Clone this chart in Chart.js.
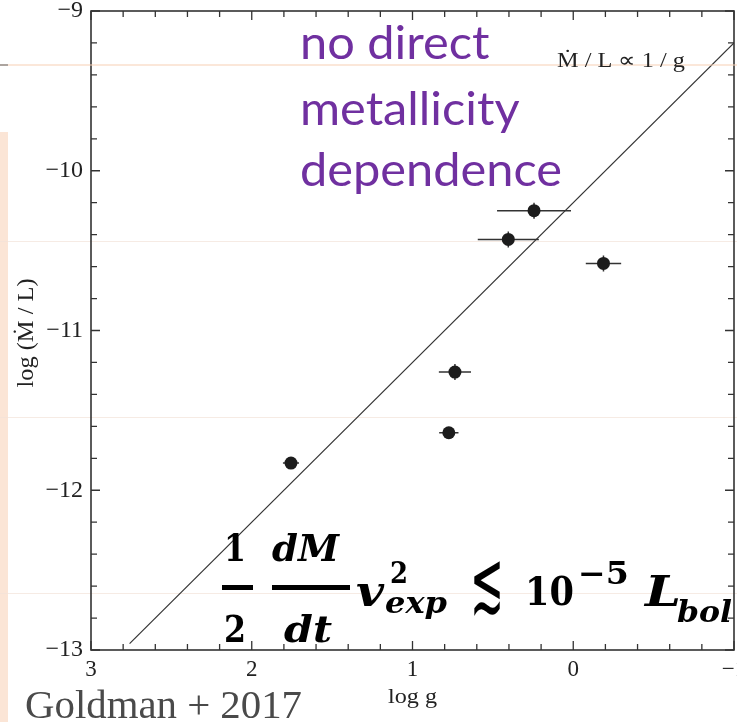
<!DOCTYPE html>
<html>
<head>
<meta charset="utf-8">
<script src="https://cdn.jsdelivr.net/npm/chart.js@4.4.1/dist/chart.umd.min.js"></script>
<style>
  html, body { margin: 0; padding: 0; background: #fff; overflow: hidden; }
  #wrap { width: 737px; height: 722px; overflow: hidden; position: relative; }
  canvas { display: block; }
</style>
</head>
<body>
<div id="wrap"><canvas id="chart" width="760" height="722"></canvas></div>
<script>
// measured stars: surface gravity vs mass-loss rate per luminosity
const logG    = [1.756, 0.774, 0.736, 0.404, 0.244, -0.188];
const logML   = [-11.83, -11.64, -11.26, -10.43, -10.25, -10.58];
const logGErr = [0.05, 0.06, 0.10, 0.19, 0.23, 0.11];
const logMLErr = [0.03, 0.03, 0.05, 0.05, 0.05, 0.05];

// Mdot/L ∝ 1/g relation
const relX = [2.76, -1.0];
const relY = [-12.96, -9.2];

const xTicks = [3, 2, 1, 0, -1];
const yTicks = [-9, -10, -11, -12, -13];

const serif = '"Liberation Serif", "Times New Roman", serif';
const mathFont = '"DejaVu Serif", serif';

function minus(v) {
    return v < 0 ? '\u2212' + Math.abs(v) : String(v);
}

// draw text squeezed/stretched to a given width
function fitText(ctx, text, x, y, width, font, color) {
    ctx.save();
    ctx.font = font;
    ctx.fillStyle = color;
    ctx.textAlign = 'left';
    ctx.textBaseline = 'alphabetic';
    const w = ctx.measureText(text).width;
    ctx.translate(x, y);
    ctx.scale(width / w, 1);
    ctx.fillText(text, 0, 0);
    ctx.restore();
}

const backdrop = {
    id: 'backdrop',
    beforeDraw(chart) {
        const ctx = chart.ctx;
        ctx.save();
        ctx.fillStyle = '#fff';
        ctx.fillRect(0, 0, chart.width, chart.height);
        ctx.fillStyle = '#fbe5d6';
        ctx.fillRect(0, 132, 8, 590);
        ctx.strokeStyle = 'rgba(242,226,216,0.7)';
        ctx.lineWidth = 1;
        [241.5, 417.5, 593.5].forEach(y => {
            ctx.beginPath(); ctx.moveTo(0, y); ctx.lineTo(chart.width, y); ctx.stroke();
        });
        ctx.restore();
    }
};

const errorBars = {
    id: 'errorBars',
    beforeDatasetsDraw(chart) {
        const ctx = chart.ctx;
        const xs = chart.scales.x, ys = chart.scales.y;
        ctx.save();
        ctx.strokeStyle = '#333';
        ctx.lineWidth = 1.5;
        logG.forEach((g, i) => {
            const px = xs.getPixelForValue(g), py = ys.getPixelForValue(logML[i]);
            ctx.beginPath();
            ctx.moveTo(xs.getPixelForValue(g - logGErr[i]), py);
            ctx.lineTo(xs.getPixelForValue(g + logGErr[i]), py);
            ctx.moveTo(px, ys.getPixelForValue(logML[i] - logMLErr[i]));
            ctx.lineTo(px, ys.getPixelForValue(logML[i] + logMLErr[i]));
            ctx.stroke();
        });
        ctx.restore();
    }
};

const frame = {
    id: 'frame',
    afterDatasetsDraw(chart) {
        const ctx = chart.ctx;
        const a = chart.chartArea;
        const xs = chart.scales.x, ys = chart.scales.y;
        ctx.save();
        ctx.strokeStyle = '#333';
        ctx.lineWidth = 1.6;
        ctx.strokeRect(a.left, a.top, a.right - a.left, a.bottom - a.top);
        ctx.lineWidth = 1.3;
        ctx.beginPath();
        for (let k = 0; k <= 20; k++) {
            const v = -1 + k * 0.2;
            const len = (k % 5 === 0) ? 9 : 6;
            const px = xs.getPixelForValue(v);
            ctx.moveTo(px, a.bottom); ctx.lineTo(px, a.bottom - len);
            ctx.moveTo(px, a.top); ctx.lineTo(px, a.top + len);
            const py = ys.getPixelForValue(-13 + k * 0.2);
            ctx.moveTo(a.left, py); ctx.lineTo(a.left + len, py);
            ctx.moveTo(a.right, py); ctx.lineTo(a.right - len, py);
        }
        ctx.stroke();
        ctx.restore();
    },
    afterDraw(chart) {
        const ctx = chart.ctx;
        // slide decorations
        ctx.save();
        ctx.strokeStyle = '#f7cfb4';
        ctx.lineWidth = 1.2;
        ctx.beginPath(); ctx.moveTo(0, 65); ctx.lineTo(chart.width, 65); ctx.stroke();
        ctx.strokeStyle = '#777';
        ctx.beginPath(); ctx.moveTo(0, 65); ctx.lineTo(8, 65); ctx.stroke();
        ctx.restore();

        // axis titles
        ctx.save();
        ctx.translate(33, 333);
        ctx.rotate(-Math.PI / 2);
        ctx.font = '23px ' + serif;
        const t = 'log (\u1E40 / L)';
        const tw = ctx.measureText(t).width;
        ctx.scale(109 / tw, 1);
        ctx.fillStyle = '#222';
        ctx.textAlign = 'center';
        ctx.fillText(t, 0, 0);
        ctx.restore();
        fitText(ctx, 'log g', 388, 703, 49, '22px ' + serif, '#222');

        fitText(ctx, '\u1E40 / L \u221D 1 / g', 557, 67, 128, '21px ' + serif, '#222');
        fitText(ctx, 'Goldman + 2017', 25, 718, 277, '40px ' + serif, '#4a4a4a');

        // purple note
        const purple = '#7030a0';
        ctx.save();
        ctx.font = '47px Lato';
        const k = 262 / ctx.measureText('dependence').width;
        ctx.restore();
        [['no direct', 59], ['metallicity', 125], ['dependence', 186]].forEach(([s, y]) => {
            ctx.save();
            ctx.font = '47px Lato';
            ctx.fillStyle = purple;
            ctx.translate(300, y);
            ctx.scale(k, 1);
            ctx.fillText(s, 0, 0);
            ctx.restore();
        });

        // formula
        const bi = sz => 'bold italic ' + sz + 'px ' + mathFont;
        const b = sz => 'bold ' + sz + 'px ' + mathFont;
        fitText(ctx, '1', 224, 561, 22, b(37), '#000');
        fitText(ctx, '2', 224, 642, 22, b(37), '#000');
        fitText(ctx, 'dM', 272, 561, 67, bi(37), '#000');
        fitText(ctx, 'dt', 284, 642, 48, bi(37), '#000');
        ctx.fillStyle = '#000';
        ctx.fillRect(222, 585, 31, 5);
        ctx.fillRect(272, 585, 78, 5);
        fitText(ctx, 'v', 356, 606, 28, bi(42), '#000');
        fitText(ctx, '2', 390, 583, 18, b(29), '#000');
        fitText(ctx, 'exp', 385, 613, 62, bi(29), '#000');
        fitText(ctx, '\u2272', 470, 611, 34, '86px "DejaVu Sans"', '#000');
        fitText(ctx, '10', 525, 605, 49, b(40), '#000');
        fitText(ctx, '\u22125', 578, 584, 51, b(31), '#000');
        fitText(ctx, 'L', 645, 606, 36, bi(42), '#000');
        fitText(ctx, 'bol', 677, 622, 55, bi(29), '#000');
    }
};

new Chart(document.getElementById('chart').getContext('2d'), {
    type: 'scatter',
    data: {
        datasets: [{
            data: logG.map((g, i) => ({ x: g, y: logML[i] })),
            backgroundColor: '#1c1c1c',
            borderWidth: 0,
            pointRadius: 6.5,
            pointHoverRadius: 6.5
        }, {
            type: 'line',
            data: relX.map((x, i) => ({ x: x, y: relY[i] })),
            borderColor: '#333',
            borderWidth: 1.2,
            pointRadius: 0,
            fill: false
        }]
    },
    options: {
        responsive: false,
        animation: false,
        devicePixelRatio: 1,
        layout: { padding: { left: 0, right: 26, top: 11, bottom: 0 } },
        plugins: { legend: { display: false }, tooltip: { enabled: false } },
        scales: {
            x: {
                type: 'linear',
                min: -1, max: 3,
                reverse: true,
                afterFit: s => { s.height = 72; s.paddingLeft = 0; s.paddingRight = 0; },
                afterBuildTicks: s => { s.ticks = xTicks.map(v => ({ value: v })); },
                grid: { display: false, drawTicks: false },
                border: { display: false },
                ticks: {
                    padding: 6,
                    color: '#222',
                    font: { family: serif, size: 23 },
                    callback: v => minus(v)
                }
            },
            y: {
                type: 'linear',
                min: -13, max: -9,
                afterFit: s => { s.width = 91; s.paddingTop = 0; s.paddingBottom = 0; },
                afterBuildTicks: s => { s.ticks = yTicks.map(v => ({ value: v })); },
                grid: { display: false, drawTicks: false },
                border: { display: false },
                ticks: {
                    padding: 8,
                    color: '#222',
                    font: { family: serif, size: 24, lineHeight: 0.5 },
                    callback: v => minus(v)
                }
            }
        }
    },
    plugins: [backdrop, errorBars, frame]
});
</script>
</body>
</html>
